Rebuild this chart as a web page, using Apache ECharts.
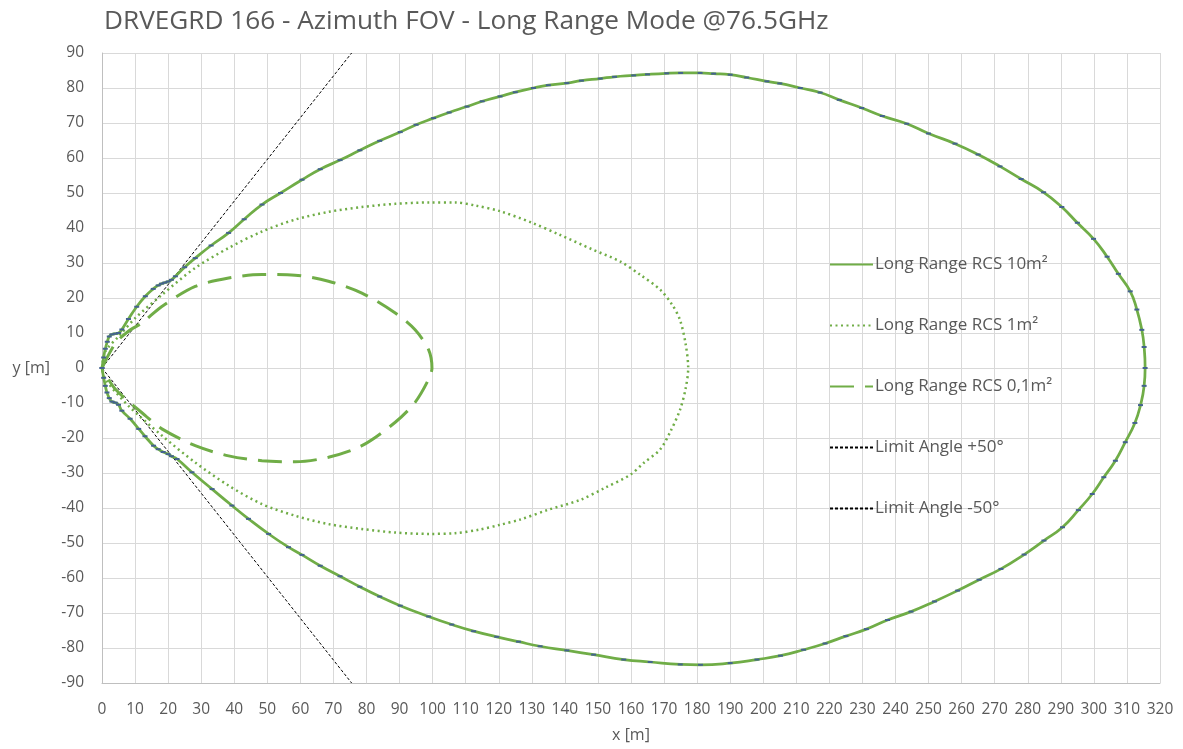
<!DOCTYPE html>
<html><head><meta charset="utf-8">
<script src="https://cdn.jsdelivr.net/npm/echarts@6/dist/echarts.min.js"></script>
<style>html,body{margin:0;padding:0;background:#fff}#c{width:1183px;height:749px}</style>
</head><body><div id="c"></div>
<script>
// ---- Data ----
const titleText = 'DRVEGRD 166 - Azimuth FOV - Long Range Mode @76.5GHz';
const seriesNames = ['Long Range RCS 10m²', 'Long Range RCS 1m²', 'Long Range RCS 0,1m²', 'Limit Angle +50°', 'Limit Angle -50°'];

// Long Range RCS 10m² (upper branch, then lower branch)
const rcs10X = [0, 0.5, 1, 1.6, 2.2, 3, 4, 5, 6, 8, 10.5, 13.1, 15.5, 17, 18, 19, 20, 21, 22.2, 25, 28.2, 33, 38.3, 43, 48.4, 54, 60.5, 66, 72, 78, 84, 90.2, 95, 100.3, 105, 110.4, 115, 120.4, 125, 130.5, 135, 140.6, 145, 150.7, 155, 160.8, 165, 170.8, 175, 180.9, 185, 190, 195, 201.1, 205, 211.2, 217.2, 223, 229.8, 236, 243.4, 250, 258, 265, 271.6, 278, 284.8, 290.3, 295, 299.9, 304, 307.4, 311, 313, 314.5, 315.2, 315.5,
  315.2, 314.1, 312.4, 309.5, 306.5, 303, 299.5, 295.3, 290.5, 284.9, 278.9, 271.9, 265.3, 258.8, 251.8, 244.7, 237.6, 231.2, 225, 218.7, 212.2, 205.2, 198.1, 190, 181, 174.9, 165.8, 157.8, 148.7, 140.6, 132.5, 126, 119.4, 112.4, 105.8, 98.8, 90.2, 84, 78, 72, 66, 60.5, 56.4, 50.4, 44.3, 39.3, 33.3, 27.2, 22.7, 21, 20, 18.5, 17, 15.6, 13, 11.1, 8.5, 6, 5, 4, 3, 2.2, 1.5, 1, 0.5, 0];
const rcs10Y = [0, 3, 5.5, 7.5, 9, 9.6, 9.8, 10, 11, 14, 17.5, 20.5, 22.6, 23.6, 24.1, 24.4, 24.7, 25.2, 26.2, 28.8, 31.4, 35, 38.6, 42.5, 46.7, 50, 53.8, 56.8, 59.4, 62.2, 64.9, 67.4, 69.5, 71.4, 73, 74.7, 76.2, 77.6, 78.8, 80, 80.8, 81.4, 82.1, 82.7, 83.2, 83.6, 83.9, 84.2, 84.3, 84.3, 84.1, 83.8, 83, 81.9, 81.3, 80, 78.7, 76.6, 74.3, 72, 69.8, 67, 64.1, 61, 57.6, 54, 50.2, 46, 41.5, 36.9, 31.8, 26.9, 21.9, 16.7, 10.9, 6, 0,
  -5.1, -10.6, -15.7, -21.2, -26.5, -31.2, -36, -40.6, -45.5, -49.3, -53.3, -57.4, -60.5, -63.6, -66.7, -69.6, -72, -74.6, -76.6, -78.7, -80.5, -82.2, -83.3, -84.3, -84.8, -84.7, -84, -83.3, -81.9, -80.7, -79.5, -78.2, -76.8, -75.2, -73.3, -71, -67.9, -65.3, -62.5, -59.5, -56.5, -53.4, -51.2, -47.4, -43.1, -39.3, -34.6, -29.8, -26, -25.2, -24.6, -24, -23.2, -22.2, -19.5, -17.4, -14.5, -12.2, -10.5, -9.9, -9.6, -8.6, -7, -5.1, -2.8, 0];

// Long Range RCS 1m²
const rcs1X = [0, 1, 5, 10.1, 18.1, 28.2, 38.3, 48.4, 58.4, 68.5, 78.6, 88.7, 98.8, 106.8, 113, 120.4, 130, 138.6, 148, 156.8, 163, 168.8, 172.5, 174.8, 176.5, 177.3,
  176.5, 174.8, 172, 168.8, 164, 159.8, 152, 144.6, 135, 126.5, 120.4, 114, 106.8, 98.8, 88.7, 78.6, 68.5, 58.4, 48.4, 38.3, 28.2, 18.1, 8, 1, 0];
const rcs1Y = [0, 4.7, 9, 14.3, 20.9, 28.6, 34.3, 39, 42.4, 44.6, 46, 46.9, 47.3, 47.3, 46.4, 44.8, 41.5, 38, 34, 30.4, 26.5, 22.4, 18, 13.8, 7, 0,
  -6, -12, -18, -23.3, -27, -30.5, -34.3, -37.7, -40.5, -43.3, -44.8, -46.2, -47.2, -47.4, -47, -46, -44.6, -42.2, -38.9, -33.6, -27, -19.3, -10.8, -3.2, 0];

// Long Range RCS 0,1m²
const rcs01X = [0, 4, 8, 12.1, 18.1, 28.2, 38.3, 48.4, 58.4, 68.5, 78.6, 88.7, 94.7, 98.8, 99.8,
  98.8, 94.7, 88.7, 78.6, 68.5, 58.4, 48.4, 38.3, 28.2, 18.1, 13.1, 4, 0];
const rcs01Y = [0, 7, 10.5, 12.9, 17.6, 23.3, 25.7, 26.7, 26.5, 24.8, 21.4, 15.7, 10.9, 5.2, 0,
  -3.2, -9.8, -15.5, -22.2, -25.5, -26.8, -26.5, -25.1, -22.2, -17.4, -13.6, -6, 0];

// Limit angle lines (origin to the plot edge)
const limitPlusX = [0, 75.5];
const limitPlusY = [0, 90];
const limitMinusX = [0, 75.5];
const limitMinusY = [0, -90];

const zip = (xs, ys) => xs.map((x, i) => [x, ys[i]]);

const green = '#70AD47';
const txt = '#595959';
const font = 'Open Sans';

const chart = echarts.init(document.getElementById('c'), null, {renderer: 'canvas'});
chart.setOption({
  animation: false,
  backgroundColor: '#fff',
  title: {
    text: titleText, left: 99, top: 4,
    textStyle: {fontFamily: font, fontSize: 26.2, fontWeight: 'normal', color: txt}
  },
  grid: {left: 102, right: 23, top: 53, bottom: 66, containLabel: false},
  legend: {
    orient: 'vertical', left: 824, top: 251, itemGap: 44, itemWidth: 43, itemHeight: 14,
    data: seriesNames,
    itemStyle: {opacity: 0},
    textStyle: {fontFamily: font, fontSize: 17, color: txt, padding: [0, 0, 0, -3]}
  },
  xAxis: {
    type: 'value', min: 0, max: 320, interval: 10,
    name: 'x [m]', nameLocation: 'middle', nameGap: 44,
    nameTextStyle: {fontFamily: font, fontSize: 16, color: txt},
    axisLine: {onZero: false, lineStyle: {color: '#bfbfbf'}},
    axisTick: {show: false},
    axisLabel: {fontFamily: font, fontSize: 15.5, color: txt, margin: 19},
    splitLine: {lineStyle: {color: '#d9d9d9'}}
  },
  yAxis: {
    type: 'value', min: -90, max: 90, interval: 10,
    name: 'y [m]', nameLocation: 'middle', nameGap: 52, nameRotate: 0,
    nameTextStyle: {fontFamily: font, fontSize: 16, color: txt},
    axisLine: {onZero: false, lineStyle: {color: '#bfbfbf'}},
    axisTick: {show: false},
    axisLabel: {fontFamily: font, fontSize: 15.5, color: txt, margin: 18},
    splitLine: {lineStyle: {color: '#d9d9d9'}}
  },
  series: [
    {name: seriesNames[3], type: 'line', data: zip(limitPlusX, limitPlusY), showSymbol: false, symbol: 'none',
      lineStyle: {color: '#000', width: 1, type: [3, 2]}, itemStyle: {color: '#000'}, z: 2},
    {name: seriesNames[4], type: 'line', data: zip(limitMinusX, limitMinusY), showSymbol: false, symbol: 'none',
      lineStyle: {color: '#000', width: 1, type: [3, 2]}, itemStyle: {color: '#000'}, z: 2},
    {name: seriesNames[2], type: 'line', data: zip(rcs01X, rcs01Y), showSymbol: false, symbol: 'none', smooth: 0.3,
      lineStyle: {color: green, width: 3, type: [24, 11]}, itemStyle: {color: green}, z: 3},
    {name: seriesNames[1], type: 'line', data: zip(rcs1X, rcs1Y), showSymbol: false, symbol: 'none', smooth: 0.3,
      lineStyle: {color: green, width: 2.5, type: [2, 3.5]}, itemStyle: {color: green}, z: 3},
    {name: seriesNames[0], type: 'line', data: zip(rcs10X, rcs10Y), showSymbol: true, symbol: 'rect', symbolSize: [5, 2], smooth: 0.5,
      lineStyle: {color: green, width: 2.75}, itemStyle: {color: '#44638f'}, z: 4}
  ]
});
</script></body></html>
